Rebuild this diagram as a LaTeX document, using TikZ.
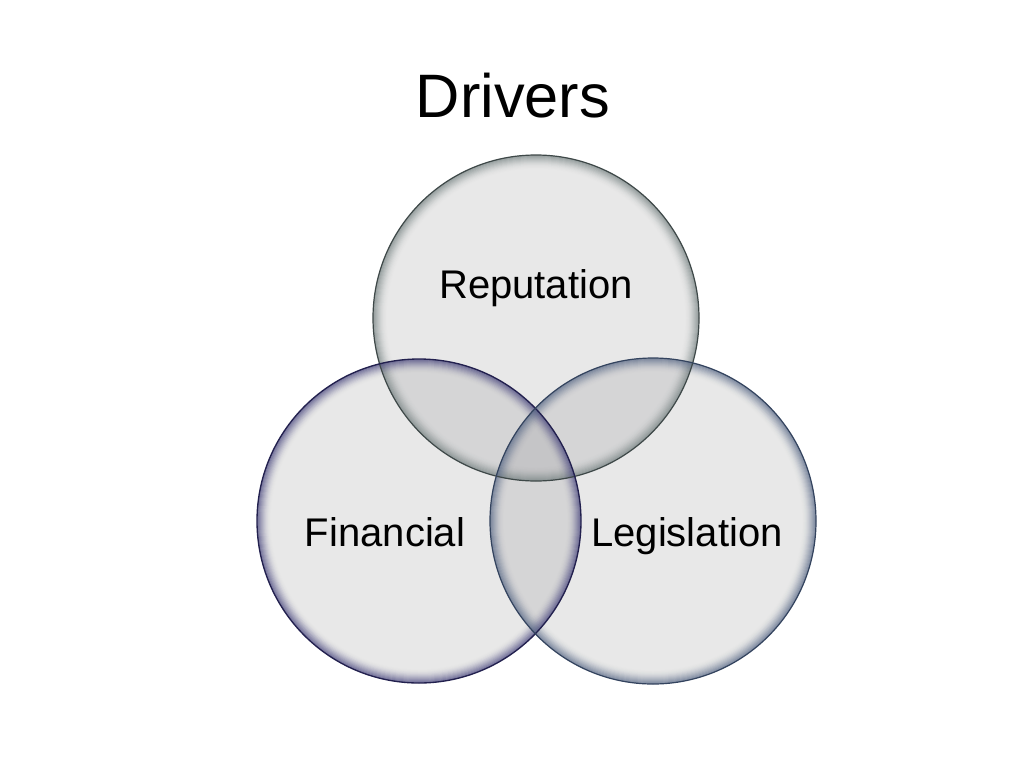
\documentclass[tikz,border=0pt]{standalone}
\usepackage{fontspec}
\setmainfont{Liberation Sans}
\begin{document}
\begin{tikzpicture}[x=0.75pt,y=-0.75pt]
\definecolor{topedge}{HTML}{3E4848}
\definecolor{topglow}{HTML}{788484}
\definecolor{leftedge}{HTML}{22204E}
\definecolor{leftglow}{HTML}{48467E}
\definecolor{rightedge}{HTML}{33435E}
\definecolor{rightglow}{HTML}{5A6A88}
\definecolor{bubblefill}{rgb}{0.52,0.52,0.54}
\tikzset{
  bubble/.style={fill=bubblefill, fill opacity=0.19},
  lbl/.style={font=\fontsize{30}{35}\selectfont, text=black, inner sep=0pt, anchor=base},
  ttl/.style={font=\fontsize{46}{54}\selectfont, text=black, inner sep=0pt, anchor=base}
}
\newcommand\glowbubble[4]{%
  \begin{scope}
    \clip (#1,#2) circle [radius=#3*0.75pt];
    \foreach \k in {0,...,13}{%
      \pgfmathsetmacro\op{0.5*(1-\k/14)^2}
      \draw[#4, line width=1.5pt, draw opacity=\op] (#1,#2) circle [radius=(#3-\k)*0.75pt];
    }
  \end{scope}}
\useasboundingbox (0,0) rectangle (1024,768);
\fill[white] (0,0) rectangle (1024,768);
% fills
\fill[bubble] (536,318) circle [radius=163*0.75pt];
\fill[bubble] (419,521) circle [radius=162*0.75pt];
\fill[bubble] (653,521) circle [radius=163*0.75pt];
% glows
\glowbubble{536}{318}{163}{topglow}
\glowbubble{419}{521}{162}{leftglow}
\glowbubble{653}{521}{163}{rightglow}
% edges
\draw[topedge, line width=0.9pt] (536,318) circle [radius=163*0.75pt];
\draw[leftedge, line width=1.0pt] (419,521) circle [radius=162*0.75pt];
\draw[rightedge, line width=0.9pt] (653,521) circle [radius=163*0.75pt];
% texts
\node[ttl] (title) at (513,117) {Drivers};
\node[lbl] (rep) at (536,298) {Reputation};
\node[lbl] (fin) at (385,546) {Financial};
\node[lbl] (leg) at (687,546) {Legislation};
\end{tikzpicture}
\end{document}
